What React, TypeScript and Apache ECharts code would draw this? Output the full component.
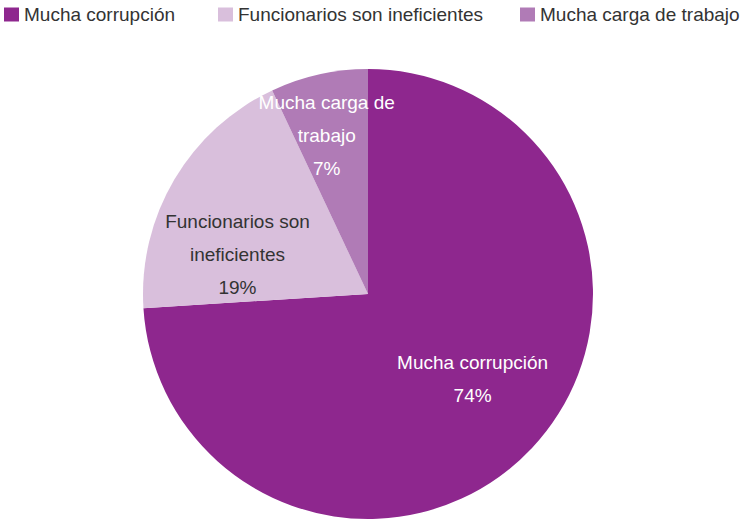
import React, { useEffect, useRef } from "react";
import * as echarts from "echarts";

const categories = ["Mucha corrupción", "Funcionarios son ineficientes", "Mucha carga de trabajo"];
const values = [74, 19, 7];
const labelNames = ["Mucha corrupción", "Funcionarios son\nineficientes", "Mucha carga de\ntrabajo"];
const colors = ["#8E278E", "#D9BFDC", "#B07BB6"];
const labelColors = ["#ffffff", "#333333", "#ffffff"];

// layout-only tweaks for label placement (pixels), per slice
const labelNudge = [
  [0, -13],
  [-7, 34],
  [-10, -18],
];
const legendLeft = [4, 218, 520];

const FONT = "'Liberation Sans', Arial, sans-serif";
const FS = 19;

export default function App() {
  const ref = useRef<HTMLDivElement>(null);
  useEffect(() => {
    if (!ref.current) return;
    const chart = echarts.init(ref.current, null, { renderer: "svg" });
    const data = categories.map((name, i) => ({
      name,
      value: values[i],
      itemStyle: { color: colors[i] },
    }));
    const labelData = categories.map((name, i) => ({
      name,
      value: values[i],
      label: {
        color: labelColors[i],
        formatter: labelNames[i] + "\n" + values[i] + "%",
      },
    }));
    chart.setOption({
      animation: false,
      textStyle: { fontFamily: FONT },
      legend: categories.map((name, i) => ({
        left: legendLeft[i],
        top: 5,
        padding: 0,
        itemWidth: 15,
        itemHeight: 14,
        icon: "rect",
        data: [name],
        textStyle: { fontSize: FS, color: "#333333", fontFamily: FONT },
      })),
      series: [
        {
          type: "pie",
          center: [368, 294],
          radius: [0, 225],
          startAngle: 90,
          clockwise: true,
          label: { show: false },
          labelLine: { show: false },
          emphasis: { disabled: true },
          data,
        },
        {
          type: "pie",
          center: [368, 294],
          radius: [56, 225],
          startAngle: 90,
          clockwise: true,
          silent: true,
          avoidLabelOverlap: false,
          labelLayout: (params: any) => ({
            hideOverlap: false,
            dx: labelNudge[params.dataIndex][0],
            dy: labelNudge[params.dataIndex][1],
          }),
          itemStyle: { color: "rgba(0,0,0,0)" },
          label: {
            show: true,
            position: "inside",
            fontSize: FS,
            lineHeight: 33,
            fontFamily: FONT,
          },
          labelLine: { show: false },
          emphasis: { disabled: true },
          data: labelData,
        },
      ],
    });
    return () => chart.dispose();
  }, []);
  return (
    <div
      ref={ref}
      style={{ position: "absolute", left: 0, top: 0, width: 740, height: 522, background: "#fff" }}
    />
  );
}
